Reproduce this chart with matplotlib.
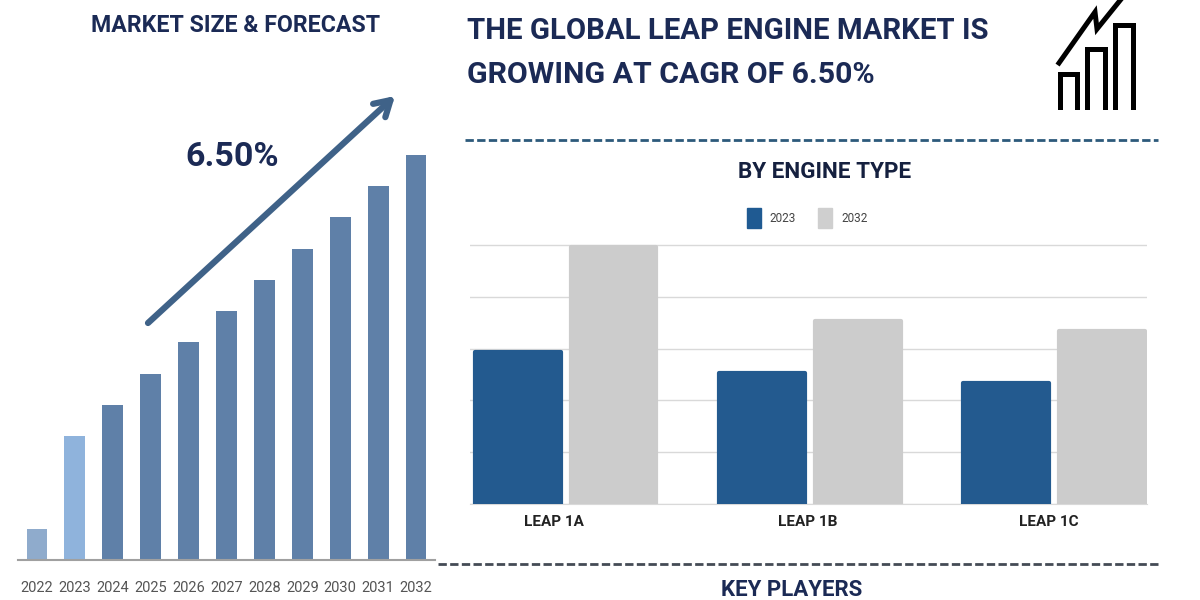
import matplotlib
matplotlib.use('Agg')
import matplotlib.pyplot as plt
from matplotlib.patches import Polygon

plt.rcParams['font.family'] = ['Roboto', 'DejaVu Sans']

# left chart
years = ['2022', '2023', '2024', '2025', '2026', '2027', '2028', '2029', '2030', '2031', '2032']
market = [31, 124, 155, 186, 218, 249, 280, 311, 343, 374, 405]
market_colors = ['#8fabcc', '#8fb3dc', '#5f80a8', '#5f80a8', '#5f80a8', '#5f80a8',
                 '#5f80a8', '#5f80a8', '#5f80a8', '#5f80a8', '#5f80a8']

# right chart
engines = ['LEAP 1A', 'LEAP 1B', 'LEAP 1C']
size_2023 = [2.93, 2.53, 2.33]
size_2032 = [4.96, 3.53, 3.34]

W, H = 1200, 600
NAVY = '#1b2a55'

fig = plt.figure(figsize=(12, 6), dpi=100, facecolor='white')

def make_axes(x0, y0, x1, y1):
    return fig.add_axes([x0 / W, 1 - y1 / H, (x1 - x0) / W, (y1 - y0) / H])

# page layer, pixel coordinates
bg = fig.add_axes([0, 0, 1, 1])
bg.set_xlim(0, W)
bg.set_ylim(H, 0)
bg.axis('off')

bg.text(236, 25, 'MARKET SIZE & FORECAST', color=NAVY, fontsize=16.7, fontweight='bold', ha='center', va='center')
bg.text(467, 31, 'THE GLOBAL LEAP ENGINE MARKET IS', color=NAVY, fontsize=21.2, fontweight='bold', va='center')
bg.text(467, 75, 'GROWING AT CAGR OF 6.50%', color=NAVY, fontsize=21.8, fontweight='bold', va='center')
bg.text(232, 157, '6.50%', color=NAVY, fontsize=24.5, fontweight='bold', ha='center', va='center')
bg.text(825, 172, 'BY ENGINE TYPE', color='#15203f', fontsize=16.2, fontweight='bold', ha='center', va='center')
bg.text(792, 590, 'KEY PLAYERS', color=NAVY, fontsize=16, fontweight='bold', ha='center', va='center')

# growth arrow
bg.annotate('', xy=(395, 96), xytext=(148, 323),
            arrowprops=dict(arrowstyle='->,head_length=1.1,head_width=0.65', color='#3f6288', lw=4.5, shrinkA=0, shrinkB=0))

# dashed separators
bg.plot([465, 1158], [140, 140], color='#2d5a7b', lw=2, dashes=(3, 1.2))
bg.plot([438, 1160], [564, 564], color='#444b55', lw=2, dashes=(3, 1.2))

# trend icon
for x0, x1, top in [(1060, 1077, 74), (1087, 1105, 49), (1115, 1133, 25)]:
    bg.plot([x0, x0, x1, x1], [107, top, top, 107], color='black', lw=3.6, solid_joinstyle='miter')
bg.plot([1059, 1095, 1097, 1122], [63, 12, 29, -2], color='black', lw=3.6, solid_joinstyle='miter')

# legend swatches drawn on the page layer
bg.add_patch(Polygon([(747, 208), (761, 208), (761, 228), (747, 228)], color='#1f5a92'))
bg.add_patch(Polygon([(818, 208), (832, 208), (832, 228), (818, 228)], color='#cfcfcf'))
bg.text(769, 218, '2023', fontsize=8.5, color='#444444', va='center')
bg.text(841, 218, '2032', fontsize=8.5, color='#444444', va='center')

# market bars
ax = make_axes(18, 100, 435, 560)
ax.bar(range(len(years)), market, width=0.55, color=market_colors)
ax.set_xlim(-0.5, 10.5)
ax.set_ylim(0, 460)
ax.set_xticks(range(len(years)))
ax.set_xticklabels(years, fontsize=10.5, color='#555555')
ax.set_yticks([])
ax.tick_params(axis='x', length=0, pad=15)
for s in ['top', 'right', 'left']:
    ax.spines[s].set_visible(False)
ax.spines['bottom'].set_color('#a0a0a0')
ax.spines['bottom'].set_linewidth(1.5)
ax.patch.set_alpha(0)

# engine bars, axes run a little above 5 so the rounded tops are not clipped
ax2 = make_axes(470, 240, 1147, 504)
pos = range(len(engines))
b1 = [p - 0.196 for p in pos]
b2 = [p + 0.196 for p in pos]
ax2.bar(b1, size_2023, width=0.35, color='#235a8f', edgecolor='#235a8f', lw=3, joinstyle='round', zorder=3)
ax2.bar(b2, size_2032, width=0.35, color='#cccccc', edgecolor='#cccccc', lw=3, joinstyle='round', zorder=3)
ax2.set_xlim(-0.393, 2.381)
ax2.set_ylim(0, 5.1)
ax2.set_yticks(range(6))
ax2.set_yticklabels([])
# labels are not quite centred under the groups in the original
ax2.set_xticks([-0.05, 0.99, 1.98])
ax2.set_xticklabels(engines, fontsize=11, fontweight='bold', color='#222222')
ax2.tick_params(length=0, pad=8)
ax2.grid(axis='y', color='#d9d9d9', lw=1)
ax2.set_axisbelow(True)
for s in ['top', 'right', 'left']:
    ax2.spines[s].set_visible(False)
ax2.spines['bottom'].set_color('#d9d9d9')
ax2.patch.set_alpha(0)

fig.savefig('out.png', dpi=100)
